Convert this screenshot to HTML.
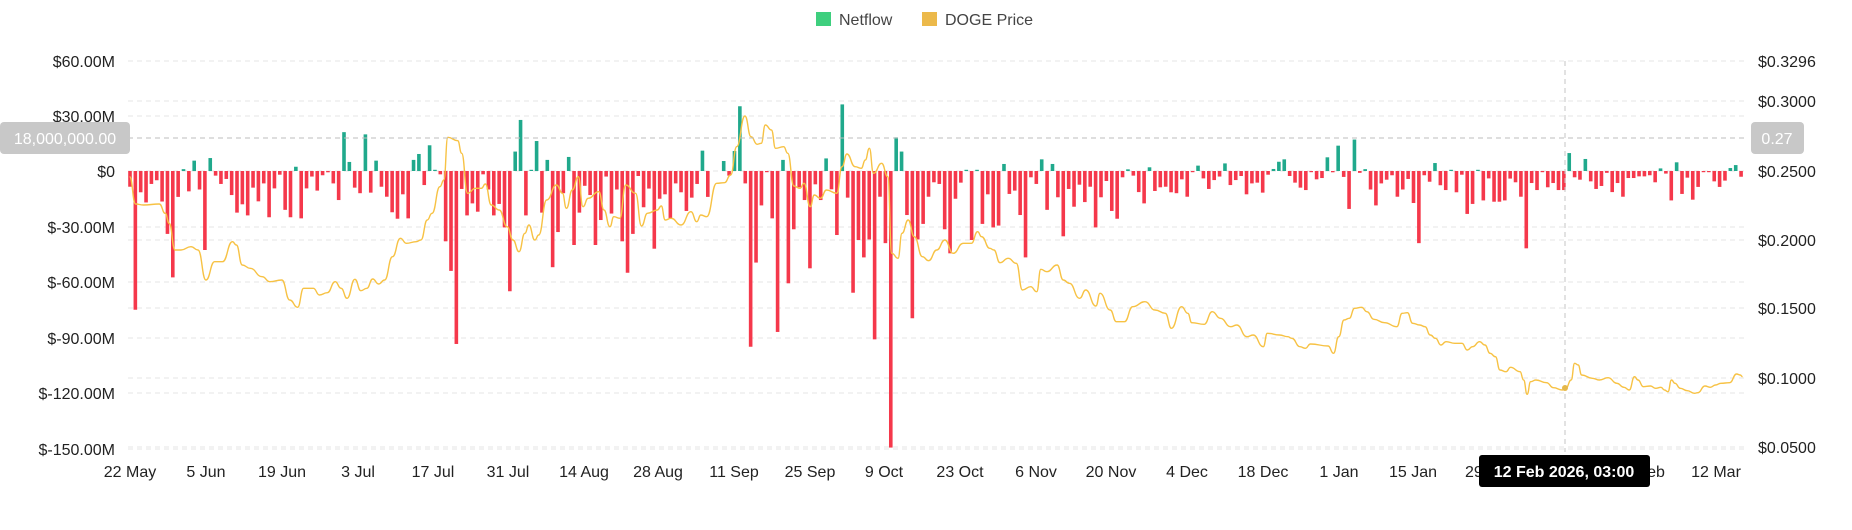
<!DOCTYPE html>
<html><head><meta charset="utf-8"><style>
html,body{margin:0;padding:0;background:#fff;}
body{width:1852px;height:525px;overflow:hidden;font-family:"Liberation Sans",sans-serif;}
svg text{font-family:"Liberation Sans",sans-serif;}
</style></head><body>
<svg id="c" width="1852" height="525" xmlns="http://www.w3.org/2000/svg">
<rect x="816" y="12" width="15" height="14" fill="#3ecf7e"/>
<text x="839" y="25" font-size="16" fill="#444">Netflow</text>
<rect x="922" y="12" width="15" height="14" fill="#ecb94a"/>
<text x="945" y="25" font-size="16" fill="#444">DOGE Price</text>
<g id="grid"></g><g id="bars"></g><g id="line"></g><g id="ov"></g>
</svg>
<script>
var NS="http://www.w3.org/2000/svg";
function el(p,t,a,txt){var e=document.createElementNS(NS,t);for(var k in a)e.setAttribute(k,a[k]);if(txt!=null)e.textContent=txt;document.getElementById(p).appendChild(e);return e;}
var L=128,R=1745;
var lt=[[61,"$60.00M"],[116,"$30.00M"],[171,"$0"],[227,"$-30.00M"],[282,"$-60.00M"],[338,"$-90.00M"],[393,"$-120.00M"],[449,"$-150.00M"]];
var rt=[[61,"$0.3296"],[101,"$0.3000"],[171,"$0.2500"],[240,"$0.2000"],[308,"$0.1500"],[378,"$0.1000"],[447,"$0.0500"]];
lt.forEach(function(t){el("grid","line",{x1:L,x2:R,y1:t[0],y2:t[0],stroke:"#e6e6e6","stroke-dasharray":"5,4"});el("grid","text",{x:115,y:t[0]+6,"font-size":16,"text-anchor":"end",fill:"#222"},t[1]);});
rt.forEach(function(t){el("grid","line",{x1:L,x2:R,y1:t[0],y2:t[0],stroke:"#e6e6e6","stroke-dasharray":"5,4"});el("grid","text",{x:1758,y:t[0]+6,"font-size":16,fill:"#222"},t[1]);});
var xt=[[130,"22 May"],[206,"5 Jun"],[282,"19 Jun"],[358,"3 Jul"],[433,"17 Jul"],[508,"31 Jul"],[584,"14 Aug"],[658,"28 Aug"],[734,"11 Sep"],[810,"25 Sep"],[884,"9 Oct"],[960,"23 Oct"],[1036,"6 Nov"],[1111,"20 Nov"],[1187,"4 Dec"],[1263,"18 Dec"],[1339,"1 Jan"],[1413,"15 Jan"],[1489,"29 Jan"],[1565,"12 Feb"],[1640,"26 Feb"],[1716,"12 Mar"]];
xt.forEach(function(t){el("grid","text",{x:t[0],y:477,"font-size":16,"text-anchor":"middle",fill:"#222"},t[1]);});
var A=[-8.5,-75,-11.5,-17,-7,-5,-16.5,-34,-57.5,-14,1,-11,5.6,-10,-42.7,7,-2.5,-7,-4.3,-13,-22.5,-18,-24,-9,-16.4,-6.7,-25,-9.4,-2,-21,-25,2.3,-25.6,-9.4,-3,-10.6,-2.3,-0.7,-6.7,-15.7,21,4.9,-9,-12,19.8,-11.7,5.6,-8.5,-13.9,-22.3,-25.8,-12.6,-25.6,6,9.2,-7.6,13.9,0.5,-1.8,-38,-54,-93.5,-9.7,-24,-17.5,-22,-1.8,-10,-24,-17.8,-30.5,-65,10.5,27.6,-24,0.5,16.2,-22.5,6,-52,-33,-12,7.6,-40,-22.5,-8,-13,-40,-26.5,-3,-23,-10,-38,-55,-34,-2.7,-19.6,-9.5,-42,-15,-12.6,-25.6,-6.7,-11.5,-21.6,-14.4,-7,11,-14];
var B=[5.4,-2.5,10.8,35,-6.7,-95,-49.5,-18.6,-0.3,-25.6,-87,6,-60.7,-31.5,-8.8,-15.7,-52.6,-7.2,-15.7,6.8,-9.9,-34.6,36,-14.4,-65.8,-37.3,-46.7,-37,-91,-13.9,-39,-149.5,18.2,10.5,-23.8,-79.6,-37,-28.6,-13.9,-6.1,-7,-31.5,-44.5,-15,-6.3,0.5,-37.3,0.5,-28.6,-12.6,-30.5,-29.5,3.8,-12.4,-10.6,-23.8,-46.7,-3.4,-7,6.3,-21,3.8,-14.2,-35.3,-9.7,-19.3,-7.4,-16.8,-8.5,-30.5,-14.2,-5.4,-21.6,-25.8,-3.4,0.9,-2.5,-11.4,-17.5,2,-10.8,-8.8,-8.5,-11.5,-12,-4.5,-13.9,-0.4,2.9,-4,-9.7,-4.9,-3,4.1,-7.6,-4.9,-2.7,-12.6,-6.7,-6.3,-11.7,-2,1.1,5,6.3,-2.7,-6.3,-9,-10.3,-0.4,-4.5,-3.8,7.4,-0.7,13.7];
var C=[-3.2,-20.5,17,-1,1,-10,-18.6,-6.7,-4.7,-2.3,-13.9,-10,-4.3,-17.3,-39,-2.3,-5.8,4.3,-7.7,-10.3,0.3,-11.5,-2,-23.2,-17.8,0.5,-15.9,-4,-16.6,-16.6,-15.9,-4.1,-6.1,-13.9,-41.8,-6.5,-10.3,-0.4,-8.8,-6.5,-10.3,-10.3,9.7,-3.4,-4.7,6.5,-5.6,-9.7,-8.1,-1,-11.4,-6.5,-13.9,-3.8,-3.8,-2.9,-2.9,-2.3,-6.1,1.4,-1.4,-15.9,4.7,-12.4,-3.6,-15.5,-8.6,-0.3,-0.3,-5.6,-8.6,-5.2,1.6,3.2,-3.1];
function drawBars(arr,x0,dx){arr.forEach(function(v,i){var x=x0+i*dx,h=Math.max(Math.abs(v)*1.85,1.2);var y=v>=0?171-h:171;el("bars","rect",{x:(x-1.8).toFixed(2),y:y.toFixed(2),width:3.6,height:h.toFixed(2),fill:v>=0?"#20a98c":"#f5384b"});});}
drawBars(A,130,5.35);drawBars(B,723.7,5.39);drawBars(C,1343.7,5.37);
var P4=[[75,290],[90,372],[110,375],[150,372],[165,400],[175,430],[190,510],[205,510],[230,500],[248,510],[268,600],[290,545],[310,545],[335,485],[345,495],[360,555],[380,565],[410,590],[430,605],[460,600],[480,660],[500,682],[515,625],[540,625],[555,645],[575,638],[595,605],[610,625],[625,655],[645,598],[660,632],[675,625],[690,597],[705,612],[720,600],[740,530],[760,475],[775,490],[800,485],[812,480],[828,420],[840,400],[860,320],[870,300],[880,172],[905,182],[915,220],[930,340],[950,325],[965,325],[975,312],[990,375],[1010,390],[1030,440],[1045,480],[1060,515],[1075,460],[1085,435],[1100,480],[1110,465],[1130,360],[1155,315],[1170,340],[1180,385],[1195,330],[1210,290],[1222,380],[1235,355],[1262,335],[1275,390],[1290,440],[1300,410],[1315,415],[1330,315],[1355,340],[1370,438],[1385,400],[1410,390],[1420,378],[1430,420],[1445,415],[1470,435],[1495,395],[1510,425],[1520,405],[1535,410],[1560,310]];
var P5=[[60,308],[75,285],[90,200],[110,108],[125,170],[140,193],[150,190],[160,135],[175,150],[185,205],[205,200],[215,220],[230,318],[245,325],[255,310],[270,380],[280,345],[295,355],[310,330],[335,340],[348,260],[360,222],[380,260],[395,265],[405,240],[415,205],[425,280],[445,250],[460,290],[470,520],[485,535],[495,460],[510,420],[525,470],[545,530],[560,542],[580,510],[600,480],[620,520],[645,490],[665,490],[680,455],[690,470],[710,505],[720,510],[735,548],[755,535],[775,550],[790,630],[810,620],[825,635],[835,568],[850,575],[875,555],[890,600],[905,610],[930,655],[945,630],[970,678],[980,640],[1005,690],[1020,725],[1040,725],[1060,680],[1090,665],[1115,690],[1140,700],[1155,745],[1180,680],[1195,700],[1205,728],[1235,733],[1255,695],[1275,715],[1300,740],[1315,735],[1340,770],[1355,765],[1380,800],[1390,760],[1420,765],[1440,770],[1450,775]];
var P3=[[0,140],[15,145],[30,132],[80,138],[95,160],[110,110],[125,60],[140,55],[155,25],[175,22],[190,35],[210,58],[240,68],[275,80],[290,40],[305,38],[320,70],[340,75],[355,80],[370,105],[385,115],[400,135],[415,125],[440,130],[460,130],[475,150],[490,140],[510,125],[525,135],[540,160],[555,170],[568,210],[585,215],[598,202],[625,215],[635,240],[645,283],[655,245],[670,240],[700,248],[720,263],[745,270],[755,265],[770,240],[780,190],[790,195],[800,225],[830,235],[850,240],[875,233],[900,250],[920,262],[935,270],[950,230],[960,240],[975,260],[995,258],[1010,265],[1025,262],[1035,270],[1045,275],[1055,240],[1065,250],[1080,265],[1100,272],[1120,280],[1130,278],[1150,258],[1165,262],[1180,255],[1195,250],[1220,248],[1240,222],[1250,225],[1257,230]];
var pts=[];
P4.forEach(function(p){pts.push([100+p[0]/2.53,80+p[1]/3]);});
P5.forEach(function(p){pts.push([700+p[0]/2.45,80+p[1]/3]);});
P3.forEach(function(p){pts.push([1300+p[0]/2.84,300+p[1]/3]);});
var d="M"+pts[0][0].toFixed(1)+","+pts[0][1].toFixed(1);
for(var i=1;i<pts.length;i++){var p0=pts[i-1],p1=pts[i],mx=(p0[0]+p1[0])/2;d+=" C"+mx.toFixed(1)+","+p0[1].toFixed(1)+" "+mx.toFixed(1)+","+p1[1].toFixed(1)+" "+p1[0].toFixed(1)+","+p1[1].toFixed(1);}
el("line","path",{d:d,fill:"none",stroke:"#f7c244","stroke-width":1.4});
el("ov","line",{x1:L,x2:R,y1:138,y2:138,stroke:"#bdbdbd","stroke-dasharray":"5,4"});
el("ov","line",{x1:1565,x2:1565,y1:61,y2:452,stroke:"#c4c4c4","stroke-dasharray":"5,4"});
el("ov","circle",{cx:1565,cy:388,r:3,fill:"#e5b84a"});
el("ov","rect",{x:0,y:122,width:130,height:32,rx:4,fill:"#c8c8c8"});
el("ov","text",{x:65,y:144,"font-size":16,"text-anchor":"middle",fill:"#fff"},"18,000,000.00");
el("ov","rect",{x:1751,y:122,width:53,height:32,rx:4,fill:"#c8c8c8"});
el("ov","text",{x:1777,y:144,"font-size":16,"text-anchor":"middle",fill:"#fff"},"0.27");
el("ov","rect",{x:1479,y:455,width:171,height:32,rx:3,fill:"#000"});
el("ov","text",{x:1564,y:477,"font-size":16,"text-anchor":"middle",fill:"#fff","font-weight":"bold"},"12 Feb 2026, 03:00");
</script>
</body></html>
